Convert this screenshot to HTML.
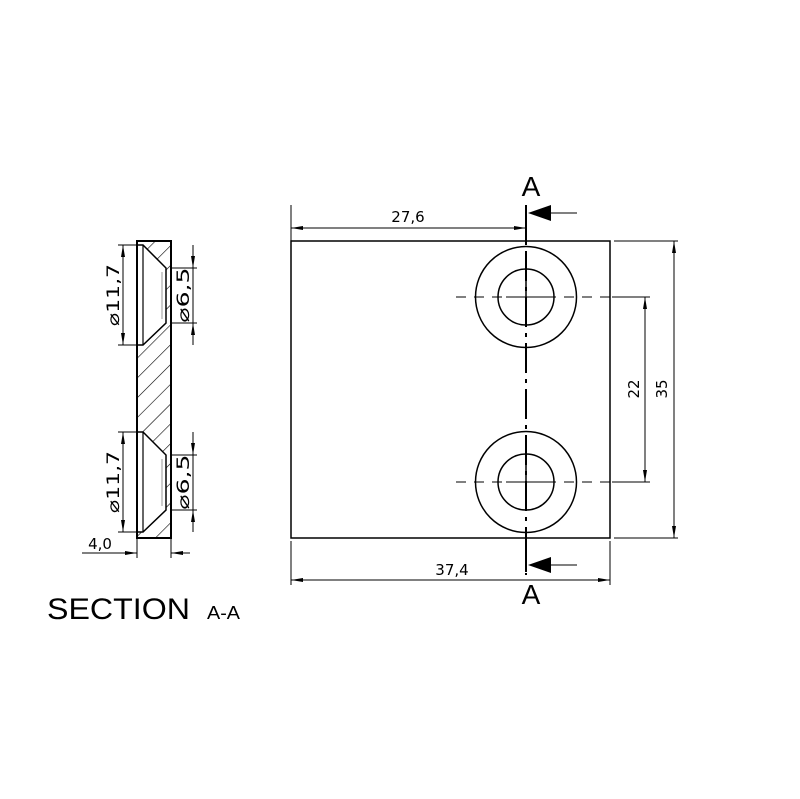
<!DOCTYPE html>
<html><head><style>html,body{margin:0;padding:0;background:#fff}svg{display:block}</style></head><body>
<svg width="800" height="799" viewBox="0 0 800 799" xmlns="http://www.w3.org/2000/svg" font-family="DejaVu Sans, sans-serif">
<defs>
<pattern id="h" patternUnits="userSpaceOnUse" width="14" height="14" patternTransform="rotate(45)">
<line x1="0" y1="0" x2="0" y2="14" stroke="#000" stroke-width="1.2"/>
</pattern>
</defs>
<g fill="none" stroke="#000">
<rect x="137" y="241" width="34" height="297" fill="url(#h)" stroke="none"/>
<path d="M137,245 H143 L166,268 V323 L143,345 H137 Z" fill="#fff" stroke="#000" stroke-width="1.5"/>
<path d="M137,432 H143 L166,455 V510 L143,532 H137 Z" fill="#fff" stroke="#000" stroke-width="1.5"/>
<line x1="143" y1="245" x2="143" y2="345" stroke-width="1.2"/>
<line x1="143" y1="432" x2="143" y2="532" stroke-width="1.2"/>
<line x1="162" y1="272" x2="162" y2="319" stroke="#999"/>
<line x1="162" y1="459" x2="162" y2="506" stroke="#999"/>
<rect x="137" y="241" width="34" height="297" stroke-width="2"/>
<g stroke-width="1">
<line x1="118" y1="245" x2="137" y2="245"/><line x1="118" y1="345" x2="137" y2="345"/>
<line x1="123" y1="245" x2="123" y2="345"/>
<line x1="118" y1="432" x2="137" y2="432"/><line x1="118" y1="532" x2="137" y2="532"/>
<line x1="123" y1="432" x2="123" y2="532"/>
<line x1="171" y1="268" x2="197" y2="268"/><line x1="171" y1="323" x2="197" y2="323"/>
<line x1="193" y1="245" x2="193" y2="345"/>
<line x1="171" y1="455" x2="197" y2="455"/><line x1="171" y1="510" x2="197" y2="510"/>
<line x1="193" y1="432" x2="193" y2="532"/>
<line x1="137" y1="538" x2="137" y2="558"/><line x1="171" y1="538" x2="171" y2="558"/>
<line x1="82" y1="553" x2="137" y2="553"/><line x1="171" y1="553" x2="190" y2="553"/>
</g>
<g fill="#000" stroke="none">
<path d="M123,245 l-2,12 h4z"/><path d="M123,345 l-2,-12 h4z"/>
<path d="M123,432 l-2,12 h4z"/><path d="M123,532 l-2,-12 h4z"/>
<path d="M193,268 l-2,-12 h4z"/><path d="M193,323 l-2,12 h4z"/>
<path d="M193,455 l-2,-12 h4z"/><path d="M193,510 l-2,12 h4z"/>
<path d="M137,553 l-12,-2 v4z"/><path d="M171,553 l12,-2 v4z"/>
</g>
<rect x="291" y="241" width="319" height="297" stroke-width="1.5"/>
<circle cx="526" cy="297" r="50.5" stroke-width="1.5"/>
<circle cx="526" cy="297" r="28" stroke-width="1.5"/>
<circle cx="526" cy="482" r="50.5" stroke-width="1.5"/>
<circle cx="526" cy="482" r="28" stroke-width="1.5"/>
<g stroke-width="1">
<line x1="456" y1="297" x2="612" y2="297" stroke-dasharray="10,8"/>
<line x1="456" y1="482" x2="612" y2="482" stroke-dasharray="10,8"/>
<line x1="506" y1="297" x2="546" y2="297"/><line x1="506" y1="482" x2="546" y2="482"/>
<line x1="612" y1="297" x2="650" y2="297"/><line x1="612" y1="482" x2="650" y2="482"/>
<line x1="645" y1="297" x2="645" y2="482"/>
<line x1="614" y1="241" x2="678" y2="241"/><line x1="614" y1="538" x2="678" y2="538"/>
<line x1="674" y1="241" x2="674" y2="538"/>
<line x1="291" y1="205" x2="291" y2="241"/>
<line x1="291" y1="228" x2="526" y2="228"/>
<line x1="291" y1="541" x2="291" y2="585"/><line x1="610" y1="541" x2="610" y2="585"/>
<line x1="291" y1="580" x2="610" y2="580"/>
<line x1="538" y1="213" x2="577" y2="213"/><line x1="538" y1="565" x2="577" y2="565"/>
</g>
<line x1="526" y1="205" x2="526" y2="575" stroke-width="2" stroke-dasharray="30,6,4,6"/>
<line x1="526" y1="205" x2="526" y2="245" stroke-width="2"/>
<line x1="526" y1="535" x2="526" y2="572" stroke-width="2"/>
<line x1="526" y1="277" x2="526" y2="317" stroke-width="1.5"/>
<line x1="526" y1="462" x2="526" y2="502" stroke-width="1.5"/>
<g fill="#000" stroke="none">
<path d="M528,213 l23,-8 v16z"/><path d="M528,565 l23,-8 v16z"/>
<path d="M291,228 l12,-2 v4z"/><path d="M526,228 l-12,-2 v4z"/>
<path d="M291,580 l12,-2 v4z"/><path d="M610,580 l-12,-2 v4z"/>
<path d="M645,297 l-2,12 h4z"/><path d="M645,482 l-2,-12 h4z"/>
<path d="M674,241 l-2,12 h4z"/><path d="M674,538 l-2,-12 h4z"/>
</g>
</g>
<g fill="#000" font-size="15">
<text x="408" y="222" text-anchor="middle">27,6</text>
<text x="452" y="575" text-anchor="middle">37,4</text>
<text x="100" y="549" text-anchor="middle">4,0</text>
<text transform="translate(639,389) rotate(-90)" text-anchor="middle">22</text>
<text transform="translate(667,389) rotate(-90)" text-anchor="middle">35</text>
<g font-size="17">
<text transform="translate(119,295) rotate(-90)" text-anchor="middle" textLength="62" lengthAdjust="spacingAndGlyphs">⌀11,7</text>
<text transform="translate(119,482) rotate(-90)" text-anchor="middle" textLength="62" lengthAdjust="spacingAndGlyphs">⌀11,7</text>
<text transform="translate(189,295) rotate(-90)" text-anchor="middle" textLength="55" lengthAdjust="spacingAndGlyphs">⌀6,5</text>
<text transform="translate(189,482) rotate(-90)" text-anchor="middle" textLength="55" lengthAdjust="spacingAndGlyphs">⌀6,5</text>
</g>
<text x="531" y="196" text-anchor="middle" font-size="28" font-family="Liberation Sans, sans-serif">A</text>
<text x="531" y="604" text-anchor="middle" font-size="28" font-family="Liberation Sans, sans-serif">A</text>
<text x="47" y="619" font-size="30" font-family="Liberation Sans, sans-serif" textLength="143" lengthAdjust="spacingAndGlyphs">SECTION</text>
<text x="207" y="619" font-size="18" font-family="Liberation Sans, sans-serif" textLength="33" lengthAdjust="spacingAndGlyphs">A-A</text>
</g>
</svg>
</body></html>
